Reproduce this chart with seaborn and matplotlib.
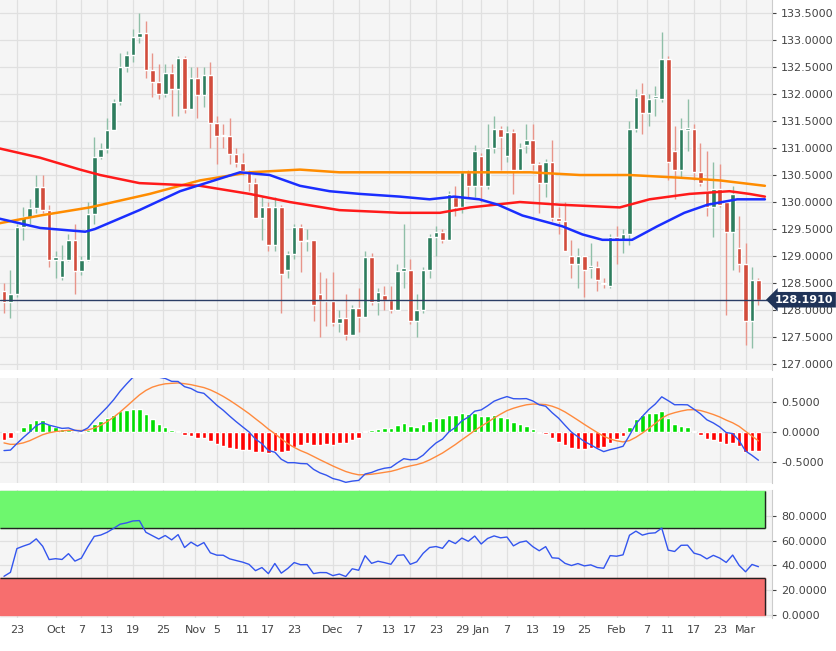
import numpy as np
import pandas as pd
import matplotlib
matplotlib.use("Agg")
import matplotlib.pyplot as plt
import seaborn as sns

opens = [128.36,128.15,128.3,129.54,129.72,129.88,130.27,129.86,128.92,128.61,128.92,129.29,128.73,128.92,129.78,130.83,130.99,131.33,131.85,132.5,
         132.72,133.06,133.12,132.44,132.22,132.0,132.38,132.1,132.67,131.73,132.3,131.98,132.36,131.46,131.23,131.22,130.88,130.72,130.57,130.36,
         129.7,129.9,129.2,129.91,128.74,129.04,129.54,129.28,129.29,128.3,128.18,128.17,127.76,127.86,127.54,128.04,127.87,128.98,128.15,128.27,
         128.18,128.0,128.72,128.75,127.8,128.0,128.75,129.35,129.45,129.3,130.1,129.9,130.55,130.3,130.85,130.3,131.0,131.35,130.85,131.3,
         130.6,131.05,131.15,130.7,130.35,130.75,129.7,129.65,129.0,128.85,129.0,128.78,128.8,128.5,128.45,129.35,129.3,129.4,131.35,132.0,
         131.65,131.93,131.9,132.65,130.95,130.6,131.33,131.35,130.55,130.2,129.9,130.25,130.0,129.45,129.15,128.85,127.8,128.55]
closes = [128.15,128.3,129.54,129.72,129.88,130.27,129.86,128.92,128.98,128.92,129.29,128.73,128.92,129.78,130.83,130.99,131.33,131.85,132.5,132.72,
          133.06,133.12,132.44,132.22,132.0,132.38,132.1,132.67,131.73,132.3,131.98,132.36,131.46,131.23,131.22,130.88,130.72,130.57,130.36,129.7,
          129.9,129.2,129.91,128.67,129.04,129.54,129.28,129.29,128.1,128.18,128.17,127.76,127.86,127.54,128.04,127.87,128.98,128.15,128.33,128.18,
          128.0,128.72,128.77,127.8,128.0,128.75,129.35,129.45,129.3,130.15,129.9,130.55,130.3,130.95,130.3,131.0,131.35,131.2,131.3,130.6,
          131.0,131.15,130.7,130.35,130.75,129.7,129.65,129.1,128.85,129.0,128.75,128.82,128.55,128.48,129.35,129.3,129.4,131.35,131.95,131.65,
          131.9,131.97,132.65,130.75,130.6,131.35,131.37,130.55,130.35,129.9,130.25,129.95,129.45,130.15,128.85,127.8,128.55,128.19]
highs = [128.5,128.75,129.6,129.9,130.05,130.5,130.5,129.95,129.1,129.2,129.4,129.6,129.0,130.0,131.2,131.1,131.55,131.9,132.75,132.8,
         133.2,133.5,133.35,132.75,132.55,132.55,132.55,132.7,132.7,132.5,132.5,132.5,132.6,131.6,131.45,131.55,131.0,130.9,130.6,130.45,
         130.1,130.0,130.1,129.95,129.1,129.6,129.6,129.5,129.3,128.7,128.6,128.7,128.0,128.3,128.1,128.4,129.1,129.05,128.4,128.45,
         128.45,128.85,129.6,128.95,128.3,128.8,129.4,129.55,129.5,130.2,130.3,130.55,130.6,131.05,130.9,131.45,131.6,131.4,131.4,131.35,
         131.1,131.45,131.45,130.75,130.8,131.15,129.9,130.0,129.3,129.15,129.0,129.25,128.9,128.6,129.4,129.55,129.5,131.5,132.1,132.2,
         132.0,132.15,133.15,132.7,131.4,131.55,131.9,131.45,131.1,130.95,130.75,130.7,130.0,130.3,129.75,129.25,128.8,128.6]
lows = [127.95,127.85,128.25,129.3,129.6,129.8,129.8,128.8,128.6,128.55,128.9,128.3,128.65,128.9,129.6,130.8,130.9,131.75,131.8,132.4,
        132.6,132.95,132.3,131.95,131.9,131.95,131.6,131.6,131.65,131.8,131.55,131.75,131.0,130.7,131.0,130.7,130.65,130.5,130.2,129.7,
        129.3,129.1,129.1,127.95,128.6,128.95,128.7,129.1,127.8,127.5,127.7,127.7,127.6,127.45,127.65,127.6,127.9,128.1,127.9,128.0,
        127.95,128.0,128.4,127.75,127.5,127.95,128.6,129.0,129.25,129.3,129.75,129.8,130.1,130.1,130.0,130.25,130.9,130.6,130.75,130.15,
        130.6,130.9,130.6,129.8,130.1,129.65,129.4,129.1,128.6,128.4,128.25,128.6,128.35,128.4,128.4,128.85,129.05,129.2,131.3,131.25,
        131.4,131.6,131.85,130.4,130.05,130.45,130.95,130.4,130.3,129.75,129.35,129.9,127.9,128.75,128.7,127.35,127.3,128.1]

ma_fast_idx = [-1,5.6,12.6,14.1,21,27.3,36.6,41.2,45.9,50.5,55.2,61.4,66,69.8,73.7,76.6,80.4,86.6,89.7,92.8,97.4,101.3,105.5,109.1,113.7,118]
ma_fast_val = [129.7,129.52,129.45,129.5,129.85,130.2,130.55,130.5,130.3,130.2,130.15,130.1,130.05,130.1,130.05,129.95,129.75,129.55,129.4,129.3,129.3,129.55,129.8,129.95,130.05,130.05]
ma_mid_idx = [-1,5.6,11.8,14.9,21,30.4,38.1,44.3,52,61.4,67.6,72.3,80,86.2,95.5,100.1,106.3,112.5,115.6,118]
ma_mid_val = [131.0,130.82,130.6,130.5,130.35,130.3,130.15,130.0,129.85,129.8,129.8,129.9,130.0,129.95,129.9,130.05,130.15,130.2,130.15,130.1]
ma_slow_idx = [-1,5.6,13.3,22.6,30.4,38.1,45.9,52,61.4,69.1,73.7,81.6,89.3,97,104.8,111,118]
ma_slow_val = [129.6,129.75,129.9,130.15,130.4,130.55,130.6,130.55,130.55,130.55,130.55,130.55,130.5,130.5,130.45,130.4,130.3]

# estimated indicator state before the first visible candle
rsi_seed_up, rsi_seed_dn = 0.08, 0.16
macd_seed_fast, macd_seed_slow, macd_seed_signal = 128.55, 128.85, -0.15

tick_labels = ["23","Oct","7","13","19","25","Nov","5","11","17","23","Dec","7","13","17","23","29","Jan","7","13","19","25","Feb","7","11","17","23","Mar"]
tick_dates = ["2020-09-23","2020-10-01","2020-10-07","2020-10-13","2020-10-19","2020-10-25","2020-11-01","2020-11-05","2020-11-11","2020-11-17",
              "2020-11-23","2020-12-01","2020-12-07","2020-12-13","2020-12-17","2020-12-23","2020-12-29","2021-01-01","2021-01-07","2021-01-13",
              "2021-01-19","2021-01-25","2021-02-01","2021-02-07","2021-02-11","2021-02-17","2021-02-23","2021-03-01"]
price_ticks = [127.0,127.5,128.0,128.5,129.0,129.5,130.0,130.5,131.0,131.5,132.0,132.5,133.0,133.5]
last_price = 128.191

n = len(closes)
idx = np.arange(n)
dates = pd.bdate_range("2020-09-21", periods=n)
tick_pos = np.interp(pd.to_datetime(tick_dates).map(pd.Timestamp.toordinal), [d.toordinal() for d in dates], idx)

# MACD (12, 26, 9) with seeded EMAs
ef, es, sg = macd_seed_fast, macd_seed_slow, macd_seed_signal
macd, signal = [], []
for p in closes:
    ef += (p - ef) * 2 / 13
    es += (p - es) * 2 / 27
    m = ef - es
    sg += (m - sg) * 2 / 10
    macd.append(m); signal.append(sg)
macd = np.array(macd); signal = np.array(signal)
hist = macd - signal

# RSI (14, Wilder) with seeded averages
up, dn = rsi_seed_up, rsi_seed_dn
rsi = []
prev = opens[0]
for p in closes:
    d = p - prev
    up = (up * 13 + max(d, 0)) / 14
    dn = (dn * 13 + max(-d, 0)) / 14
    rsi.append(100 - 100 / (1 + up / dn))
    prev = p
rsi = np.array(rsi)

sns.set_style("white")
W, H = 837, 651
fig = plt.figure(figsize=(W/100, H/100), dpi=100)
bg = "#f5f5f5"
x0, x1 = -0.62, 119.1
def mk(top, bot):
    ax = fig.add_axes([0, 1-bot/H, 772/W, (bot-top)/H])
    ax.set_facecolor(bg)
    ax.set_xlim(x0, x1)
    ax.yaxis.tick_right()
    ax.set_xticks(tick_pos)
    ax.grid(True, color="#e0e0e0", lw=0.9)
    for s in ["top","left","bottom"]:
        ax.spines[s].set_visible(False)
    ax.spines["right"].set_color("#cccccc")
    ax.tick_params(axis="y", labelsize=8, colors="#444444", length=3)
    ax.tick_params(axis="x", length=0, labelbottom=False)
    ax.set_axisbelow(True)
    return ax

ax = mk(0, 370)
ax.set_ylim(126.89, 133.74)
ax.set_yticks(price_ticks)
ax.set_yticklabels([f"{v:.4f}" for v in price_ticks])
green, red = "#2e7d5e", "#d24c3c"
for i in idx:
    col = green if closes[i] >= opens[i] else red
    wcol = "#8fbfa8" if col == green else "#e8958a"
    ax.vlines(i, lows[i], highs[i], color=wcol, lw=1, zorder=2)
    ax.bar(i, max(abs(closes[i]-opens[i]), 0.02), bottom=min(opens[i], closes[i]), width=0.72, color=col, zorder=3)
sns.lineplot(x=ma_slow_idx, y=ma_slow_val, ax=ax, color="#ff8c00", lw=1.8, zorder=4)
sns.lineplot(x=ma_mid_idx, y=ma_mid_val, ax=ax, color="#ff1a1a", lw=1.8, zorder=4)
sns.lineplot(x=ma_fast_idx, y=ma_fast_val, ax=ax, color="#1a2eff", lw=1.8, zorder=4)
ax.axhline(last_price, color="#2b3d66", lw=1, zorder=5)
ax.text(119.5, last_price, f"{last_price:.4f}", color="white", fontsize=8, fontweight="bold", va="center", ha="left",
        bbox=dict(boxstyle="larrow,pad=0.25", fc="#1f3358", ec="none"), zorder=6, clip_on=False)

ax2 = mk(378, 483)
ax2.set_ylim(-0.85, 0.9)
ax2.set_yticks([-0.5, 0, 0.5])
ax2.set_yticklabels(["-0.5000", "0.0000", "0.5000"])
ax2.bar(idx, hist, width=0.7, color=np.where(hist >= 0, "#00dd00", "#ff0000"), zorder=2)
sns.lineplot(x=idx, y=signal, ax=ax2, color="#ff8a3d", lw=1, zorder=3)
sns.lineplot(x=idx, y=macd, ax=ax2, color="#3355ee", lw=1, zorder=3)

ax3 = mk(490, 618)
ax3.set_ylim(-2.4, 100.8)
ax3.set_yticks([0, 20, 40, 60, 80])
ax3.set_yticklabels(["0.0000", "20.0000", "40.0000", "60.0000", "80.0000"])
ax3.fill_between([x0, 118], 70, 100, color="#6ef76e", zorder=1)
ax3.fill_between([x0, 118], 0, 30, color="#f76e6e", zorder=1)
ax3.hlines([70, 30], x0, 118, color="#222222", lw=1, zorder=2)
ax3.vlines(118, 70, 100, color="#222222", lw=1, zorder=2)
ax3.vlines(118, 0, 30, color="#222222", lw=1, zorder=2)
sns.lineplot(x=idx, y=rsi, ax=ax3, color="#3355ee", lw=1, zorder=3)
ax3.tick_params(axis="x", labelbottom=True, labelsize=8, colors="#444444", pad=5)
ax3.set_xticklabels(tick_labels)
for a in (ax, ax2, ax3):
    a.set_xlabel(""); a.set_ylabel("")
fig.savefig("out.png", dpi=100, facecolor="white")
